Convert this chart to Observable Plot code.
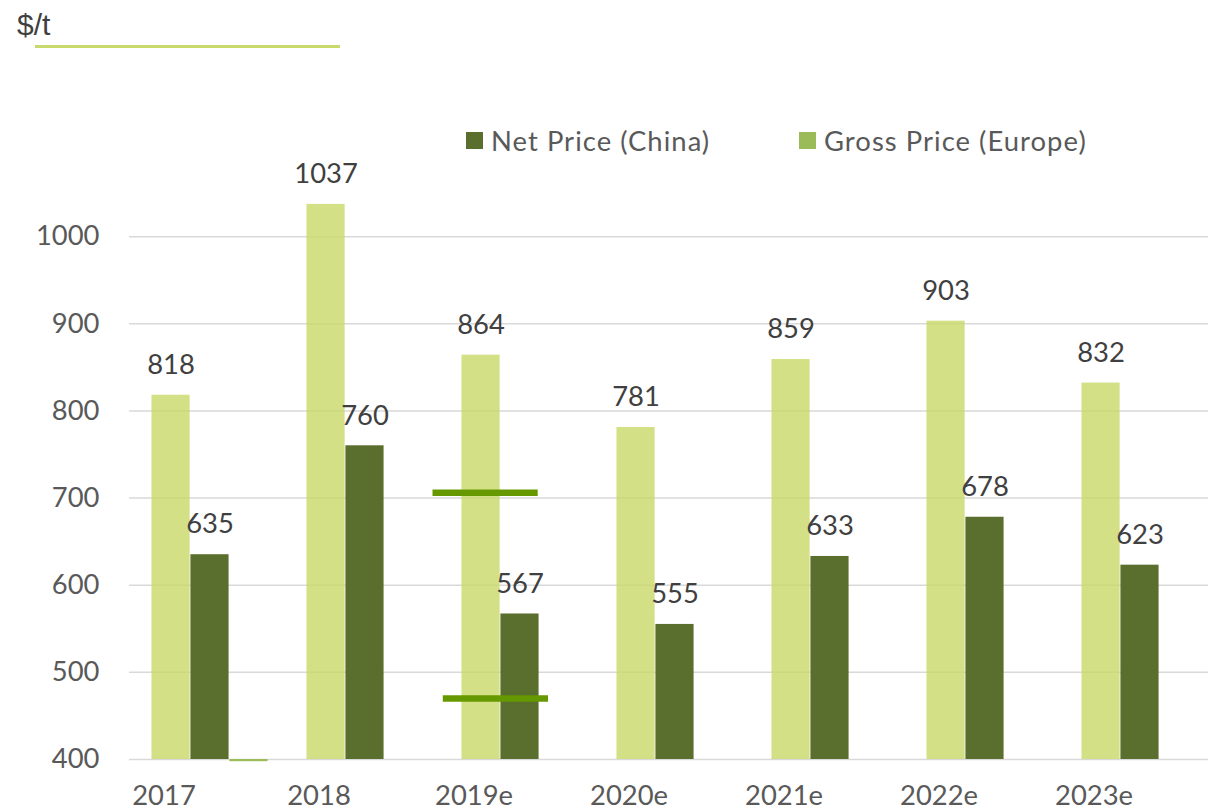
<!DOCTYPE html>
<html>
<head>
<meta charset="utf-8">
<script src="https://cdn.jsdelivr.net/npm/d3@7"></script>
<script src="https://cdn.jsdelivr.net/npm/@observablehq/plot@0.6"></script>
<style>
  html, body { margin: 0; padding: 0; background: #fff; overflow: hidden; }
  #wrap { position: relative; width: 1208px; height: 812px; overflow: hidden; }
  #chart { position: absolute; left: 0; top: 0; }
  .unit { position: absolute; left: 17px; top: 8px; font-family: "Liberation Sans Narrow", "Liberation Sans", sans-serif; font-size: 30px; color: #404040; }
  .uline { position: absolute; left: 35px; top: 45px; width: 305px; height: 3px; background: #c9d96b; }
  .leg { position: absolute; top: 124px; font-family: Lato, sans-serif; font-size: 27.4px; letter-spacing: 1.05px; color: #595959; display: flex; align-items: center; white-space: nowrap; }
  .sw { width: 17px; height: 17px; margin-right: 8px; display: inline-block; }
</style>
</head>
<body>
<div id="wrap">
  <div id="chart"></div>
  <div class="unit">$/t</div>
  <div class="uline"></div>
  <div class="leg" style="left:466px"><span class="sw" style="background:#5a6e2e"></span>Net Price (China)</div>
  <div class="leg" style="left:799px"><span class="sw" style="background:#9bbb59"></span>Gross Price (Europe)</div>
</div>
<script>
const years = ["2017", "2018", "2019e", "2020e", "2021e", "2022e", "2023e"];
const grossEurope = [818, 1037, 864, 781, 859, 903, 832];
const netChina = [635, 760, 567, 555, 633, 678, 623];
const otherSeries = [397.5, null, null, null, null, null, null];
const yTicks = [400, 500, 600, 700, 800, 900, 1000];
const markerYear = "2019e";
const markerValues = [706, 470];

const rows = years.map((year, i) => ({year, gross: grossEurope[i], net: netChina[i], other: otherSeries[i]}));
const markers = markerValues.map((v, i) => ({year: markerYear, value: v, idx: i}));

const step = (1219.5 - 128.9) / years.length;
const bw = step / 4;
const font = "Lato, sans-serif";

const chart = Plot.plot({
  width: 1208,
  height: 812,
  marginLeft: 129,
  marginRight: 0,
  marginTop: 149,
  marginBottom: 53,
  x: {type: "band", domain: years, range: [128.9, 1219.5], padding: 0},
  y: {domain: [400, 1100]},
  style: {fontFamily: font, background: "transparent", overflow: "visible"},
  marks: [
    Plot.ruleY(yTicks, {stroke: "#d9d9d9", strokeWidth: 1.5}),
    Plot.barY(rows, {x: "year", y1: 400, y2: "gross", fill: "#c9d867", fillOpacity: 0.8,
      insetLeft: bw / 2, insetRight: step - bw * 1.5}),
    Plot.barY(rows, {x: "year", y1: 400, y2: "net", fill: "#5a6e2e",
      insetLeft: bw * 1.5, insetRight: bw * 1.5}),
    Plot.barY(rows.filter(d => d.other != null), {x: "year", y1: 400, y2: "other", fill: "#9bbb59",
      insetLeft: bw * 2.5, insetRight: bw / 2}),
    Plot.tickY(markers.filter(d => d.idx === 0), {x: "year", y: "value", stroke: "#669900", strokeWidth: 6.5,
      insetLeft: -9.5, insetRight: 59.3}),
    Plot.tickY(markers.filter(d => d.idx === 1), {x: "year", y: "value", stroke: "#669900", strokeWidth: 6.5,
      insetLeft: 0.8, insetRight: 49}),
    Plot.text(rows, {x: "year", y: "gross", text: d => String(d.gross), dx: -bw, dy: -30,
      fontSize: 27.4, fill: "#404040"}),
    Plot.text(rows, {x: "year", y: "net", text: d => String(d.net), dx: 0, dy: -30,
      fontSize: 27.4, fill: "#404040"}),
    Plot.axisY({ticks: yTicks, tickFormat: d => String(d), tickSize: 0, tickPadding: 30, fontSize: 27.4, color: "#595959", label: null}),
    Plot.axisX({tickSize: 0, tickPadding: 26, dx: -46, fontSize: 27.4, color: "#595959", label: null})
  ]
});
document.getElementById("chart").appendChild(chart);
</script>
</body>
</html>
